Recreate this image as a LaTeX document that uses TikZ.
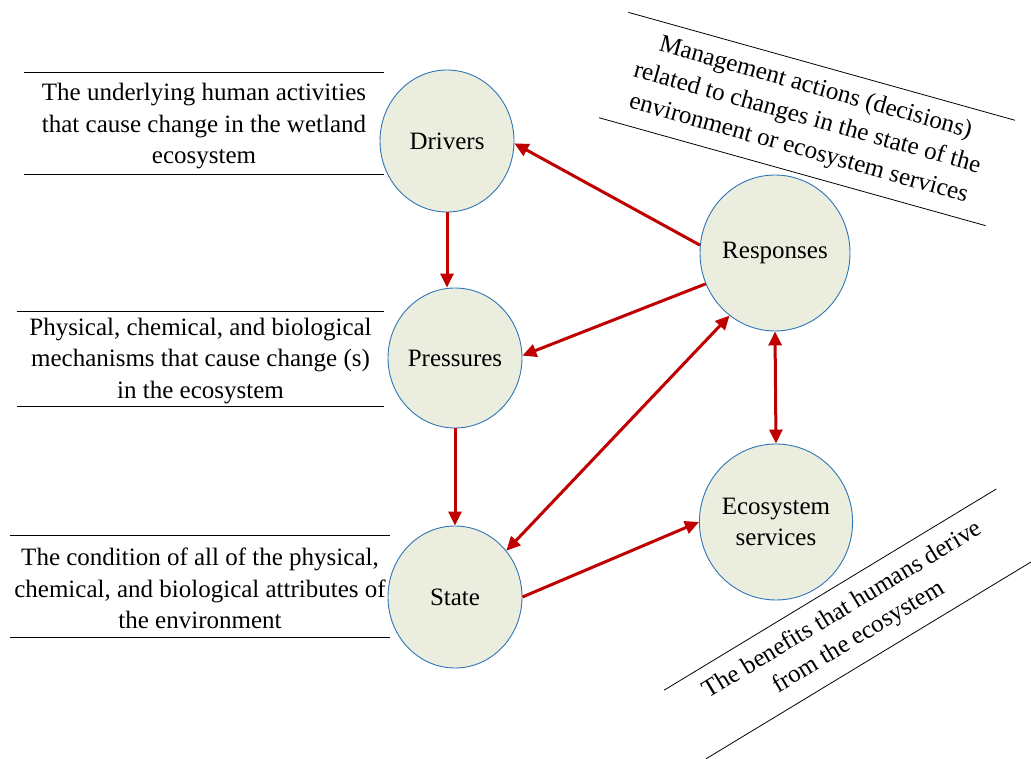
\documentclass[tikz,border=0pt]{standalone}
\usepackage{fontspec}
\setmainfont{Liberation Serif}
\usetikzlibrary{arrows.meta,shapes.geometric}
\definecolor{circfill}{HTML}{EBEEDE}
\definecolor{circline}{HTML}{2E75B6}
\definecolor{arrred}{HTML}{C00000}
\begin{document}
\begin{tikzpicture}[x=1pt,y=-1pt,
  concept/.style={ellipse,draw=circline,line width=0.9pt,fill=circfill,inner sep=0pt,
    minimum width=134pt,minimum height=142pt,align=center,font=\fontsize{25}{31}\selectfont},
  descbox/.style={inner sep=0pt,align=center,font=\fontsize{25}{31.5}\selectfont},
  rule/.style={line width=0.8pt,black},
  flow/.style={draw=arrred,line width=3pt,-{Triangle[length=14pt,width=13pt]}},
  flow2/.style={draw=arrred,line width=3pt,{Triangle[length=14pt,width=13pt]}-{Triangle[length=14pt,width=13pt]}}]
\useasboundingbox (0,0) rectangle (1031,759);

% concept circles
\node[concept] (drivers) at (447,141) {Drivers};
\node[concept,minimum height=140pt] (pressures) at (455,358) {Pressures};
\node[concept] (state) at (455,597) {State};
\node[concept,minimum width=150pt,minimum height=156pt] (responses) at (775,253) {Responses};
\node[concept,minimum width=148pt,minimum height=156pt] (eco) at (776,522) {Ecosystem\\services};

% left description boxes (text sits 3px below the box centre)
\node[descbox,minimum width=360pt,minimum height=101pt] (d1) at (204,126.5)
  {The underlying human activities\\that cause change in the wetland\\ecosystem};
\draw[rule] ([yshift=3pt]d1.north west) -- ([yshift=3pt]d1.north east);
\draw[rule] ([yshift=3pt]d1.south west) -- ([yshift=3pt]d1.south east);

\node[descbox,minimum width=367pt,minimum height=94pt] (d2) at (200.5,361)
  {Physical, chemical, and biological\\mechanisms that cause change (s)\\in the ecosystem};
\draw[rule] ([yshift=2pt]d2.north west) -- ([yshift=2pt]d2.north east);
\draw[rule] ([yshift=2pt]d2.south west) -- ([yshift=2pt]d2.south east);

\node[descbox,minimum width=380pt,minimum height=101pt] (d3) at (200,588.5)
  {The condition of all of the physical,\\chemical, and biological attributes of\\the environment};
\draw[rule] ([yshift=2pt]d3.north west) -- ([yshift=2pt]d3.north east);
\draw[rule] ([yshift=2pt]d3.south west) -- ([yshift=2pt]d3.south east);

% rotated description boxes
\node[descbox,rotate=-15.6,minimum width=401pt,minimum height=109pt] (d4) at (807,119)
  {Management actions (decisions)\\related to changes in the state of the\\environment or ecosystem services};
\draw[rule] (d4.north west) -- (d4.north east);
\draw[rule] (d4.south west) -- (d4.south east);

\node[descbox,rotate=31.2,minimum width=388pt,minimum height=80pt] (d5) at (851,624)
  {The benefits that humans derive\\from the ecosystem};
\draw[rule] (d5.north west) -- (d5.north east);
\draw[rule] (d5.south west) -- (d5.south east);

% connectors
\draw[flow] (drivers.south) -- (drivers.south |- pressures.north);
\draw[flow] (pressures.south) -- (state.north);
\draw[flow] (responses.174) -- (drivers.-2);
\draw[flow] (responses.204) -- (pressures.2);
\draw[flow2] (state.42) -- (responses.234);
\draw[flow2] (responses.south) -- (eco.north);
\draw[flow] (state.east) -- (eco.west);
\end{tikzpicture}
\end{document}
